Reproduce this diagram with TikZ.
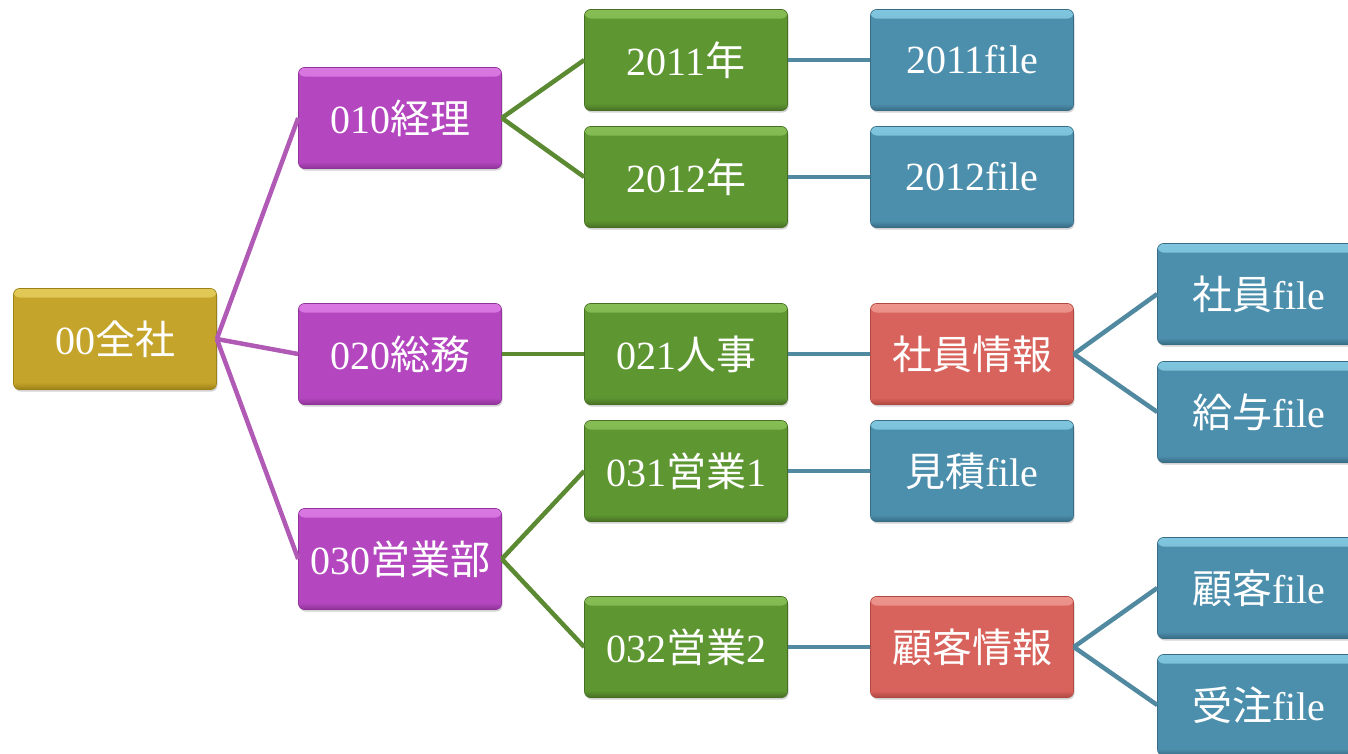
\documentclass[tikz,border=0pt]{standalone}
\usepackage{fontspec}
\setmainfont{Liberation Serif}
\newfontfamily\cjk{Noto Sans CJK JP}
\usetikzlibrary{shadows}
\definecolor{goldM}{HTML}{C4A42A}\definecolor{goldT}{HTML}{E2CA58}\definecolor{goldB}{HTML}{9C8018}
\definecolor{purM}{HTML}{B447BF}\definecolor{purT}{HTML}{DA78E2}\definecolor{purB}{HTML}{8E3398}
\definecolor{grnM}{HTML}{5E9632}\definecolor{grnT}{HTML}{86BE55}\definecolor{grnB}{HTML}{476F24}
\definecolor{bluM}{HTML}{4C8FAD}\definecolor{bluT}{HTML}{80C6DE}\definecolor{bluB}{HTML}{386C84}
\definecolor{redM}{HTML}{D8635C}\definecolor{redT}{HTML}{EC948C}\definecolor{redB}{HTML}{B04842}
\definecolor{lnP}{HTML}{B05AB5}\definecolor{lnG}{HTML}{5B8A32}\definecolor{lnB}{HTML}{5089A0}
\tikzset{
  box/.style={rectangle, rounded corners=6pt, minimum width=203pt, minimum height=101pt,
    inner sep=0pt, text=white, font=\fontsize{40}{44}\selectfont,
    fill=#1M, draw=#1B, line width=0.6pt,
    drop shadow={opacity=0.35, shadow xshift=1pt, shadow yshift=-2pt},
    path picture={
      \fill[top color=#1T, bottom color=#1M]
        (path picture bounding box.north west) rectangle ([yshift=-9pt]path picture bounding box.north east);
      \fill[top color=#1M, bottom color=#1B]
        ([yshift=7pt]path picture bounding box.south west) rectangle (path picture bounding box.south east);
    }},
  gold/.style={box=gold},
  pur/.style={box=pur},
  grn/.style={box=grn},
  blu/.style={box=blu},
  rd/.style={box=red},
  lp/.style={draw=lnP, line width=4.5pt},
  lg/.style={draw=lnG, line width=4.5pt},
  lb/.style={draw=lnB, line width=4.5pt},
}
\begin{document}
\begin{tikzpicture}[x=1pt,y=-1pt]
\useasboundingbox (0,0) rectangle (1348,753);
\clip (0,0) rectangle (1348,753);
% nodes
\node[gold] (root) at (115,339) {00{\cjk 全社}};
\node[pur] (a) at (400,118) {010{\cjk 経理}};
\node[pur] (b) at (400,354) {020{\cjk 総務}};
\node[pur] (c) at (400,559) {030{\cjk 営業部}};
\node[grn] (a1) at (686,60) {2011{\cjk 年}};
\node[grn] (a2) at (686,177) {2012{\cjk 年}};
\node[grn] (b1) at (686,354) {021{\cjk 人事}};
\node[grn] (c1) at (686,471) {031{\cjk 営業}1};
\node[grn] (c2) at (686,647) {032{\cjk 営業}2};
\node[blu] (a1f) at (972,60) {2011file};
\node[blu] (a2f) at (972,177) {2012file};
\node[rd] (b1i) at (972,354) {\cjk 社員情報};
\node[blu] (c1f) at (972,471) {{\cjk 見積}file};
\node[rd] (c2i) at (972,647) {\cjk 顧客情報};
\node[blu] (s1) at (1259,294) {{\cjk 社員}file};
\node[blu] (s2) at (1259,412) {{\cjk 給与}file};
\node[blu] (k1) at (1259,588) {{\cjk 顧客}file};
\node[blu] (k2) at (1259,705) {{\cjk 受注}file};
% connectors
\draw[lp] (root.east) -- (a.west);
\draw[lp] (root.east) -- (b.west);
\draw[lp] (root.east) -- (c.west);
\draw[lg] (a.east) -- (a1.west);
\draw[lg] (a.east) -- (a2.west);
\draw[lg] (b.east) -- (b1.west);
\draw[lg] (c.east) -- (c1.west);
\draw[lg] (c.east) -- (c2.west);
\draw[lb] (a1.east) -- (a1f.west);
\draw[lb] (a2.east) -- (a2f.west);
\draw[lb] (b1.east) -- (b1i.west);
\draw[lb] (c1.east) -- (c1f.west);
\draw[lb] (c2.east) -- (c2i.west);
\draw[lb] (b1i.east) -- (s1.west);
\draw[lb] (b1i.east) -- (s2.west);
\draw[lb] (c2i.east) -- (k1.west);
\draw[lb] (c2i.east) -- (k2.west);
\end{tikzpicture}
\end{document}
